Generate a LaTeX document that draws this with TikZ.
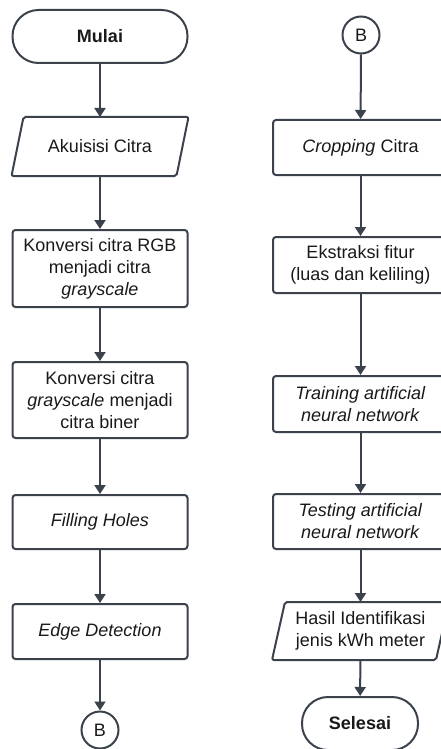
\documentclass[tikz,border=0pt]{standalone}
\usepackage{fontspec}
\setmainfont{Liberation Sans}
\usetikzlibrary{positioning}
\usetikzlibrary{arrows.meta}
\definecolor{garis}{HTML}{3B424B}

\tikzset{
	teks/.style={font=\fontsize{18}{22}\selectfont, text=black!90, align=center},
	proses/.style={teks, draw=garis, line width=2pt, rounded corners=3pt, minimum width=175pt, outer sep=1pt},
	terminal/.style={teks, font=\fontsize{18}{22}\selectfont\bfseries, draw=garis, line width=2pt, rounded corners=26pt, minimum height=53pt, outer sep=1pt},
	io/.style={teks, minimum width=175pt, outer sep=1pt},
	konektor/.style={teks, circle, draw=garis, line width=2pt, minimum size=37pt, inner sep=0pt, outer sep=1pt},
	panah/.style={draw=garis, line width=2pt, -{Triangle[length=9pt,width=11pt]}},
	jajar/.style={draw=garis, line width=2pt, rounded corners=2pt}
}

\begin{document}
\begin{tikzpicture}[x=1pt, y=-1pt]
\useasboundingbox (0,0) rectangle (440,749);

% kolom kiri
\node[terminal, minimum width=175pt] (mulai) at (100,36.5) {Mulai};
\node[io, minimum height=57pt] (akuisisi) at (100,146.5) {Akuisisi Citra};
\draw[jajar] ([xshift=12pt]akuisisi.north west) -- (akuisisi.north east)
	-- ([xshift=-12pt]akuisisi.south east) -- (akuisisi.south west) -- cycle;
\node[proses, minimum height=77pt] (rgb) at (100,268.5) {Konversi citra RGB\\menjadi citra\\\textit{grayscale}};
\node[proses, minimum height=76pt] (biner) at (100,400) {Konversi citra\\\textit{grayscale} menjadi\\citra biner};
\node[proses, minimum height=54pt] (filling) at (100,522) {\textit{Filling Holes}};
\node[proses, minimum height=55pt] (edge) at (100,631.5) {\textit{Edge Detection}};
\node[konektor] (b1) at (100,730) {B};

\draw[panah] (mulai) -- (akuisisi);
\draw[panah] (akuisisi) -- (rgb);
\draw[panah] (rgb) -- (biner);
\draw[panah] (biner) -- (filling);
\draw[panah] (filling) -- (edge);
\draw[panah] (edge) -- (b1);

% kolom kanan
\node[konektor] (b2) at (361,35) {B};
\node[proses, minimum height=55pt] (crop) at (360.5,147.5) {\textit{Cropping} Citra};
\node[proses, minimum height=56pt] (ekstraksi) at (360.5,265) {Ekstraksi fitur\\(luas dan keliling)};
\node[proses, minimum height=56pt] (training) at (360.5,404) {\textit{Training artificial}\\\textit{neural network}};
\node[proses, minimum height=55pt] (testing) at (360.5,521.5) {\textit{Testing artificial}\\\textit{neural network}};
\node[io, minimum height=56pt] (hasil) at (360.5,631) {Hasil Identifikasi\\jenis kWh meter};
\draw[jajar] ([xshift=13pt]hasil.north west) -- (hasil.north east)
	-- ([xshift=-13pt]hasil.south east) -- (hasil.south west) -- cycle;
\node[terminal, minimum width=116pt] (selesai) at (360,723.5) {Selesai};

\draw[panah] (b2) -- (crop);
\draw[panah] (crop) -- (ekstraksi);
\draw[panah] (ekstraksi) -- (training);
\draw[panah] (training) -- (testing);
\draw[panah] (testing) -- (hasil);
\draw[panah] (hasil) -- (selesai);
\end{tikzpicture}
\end{document}
